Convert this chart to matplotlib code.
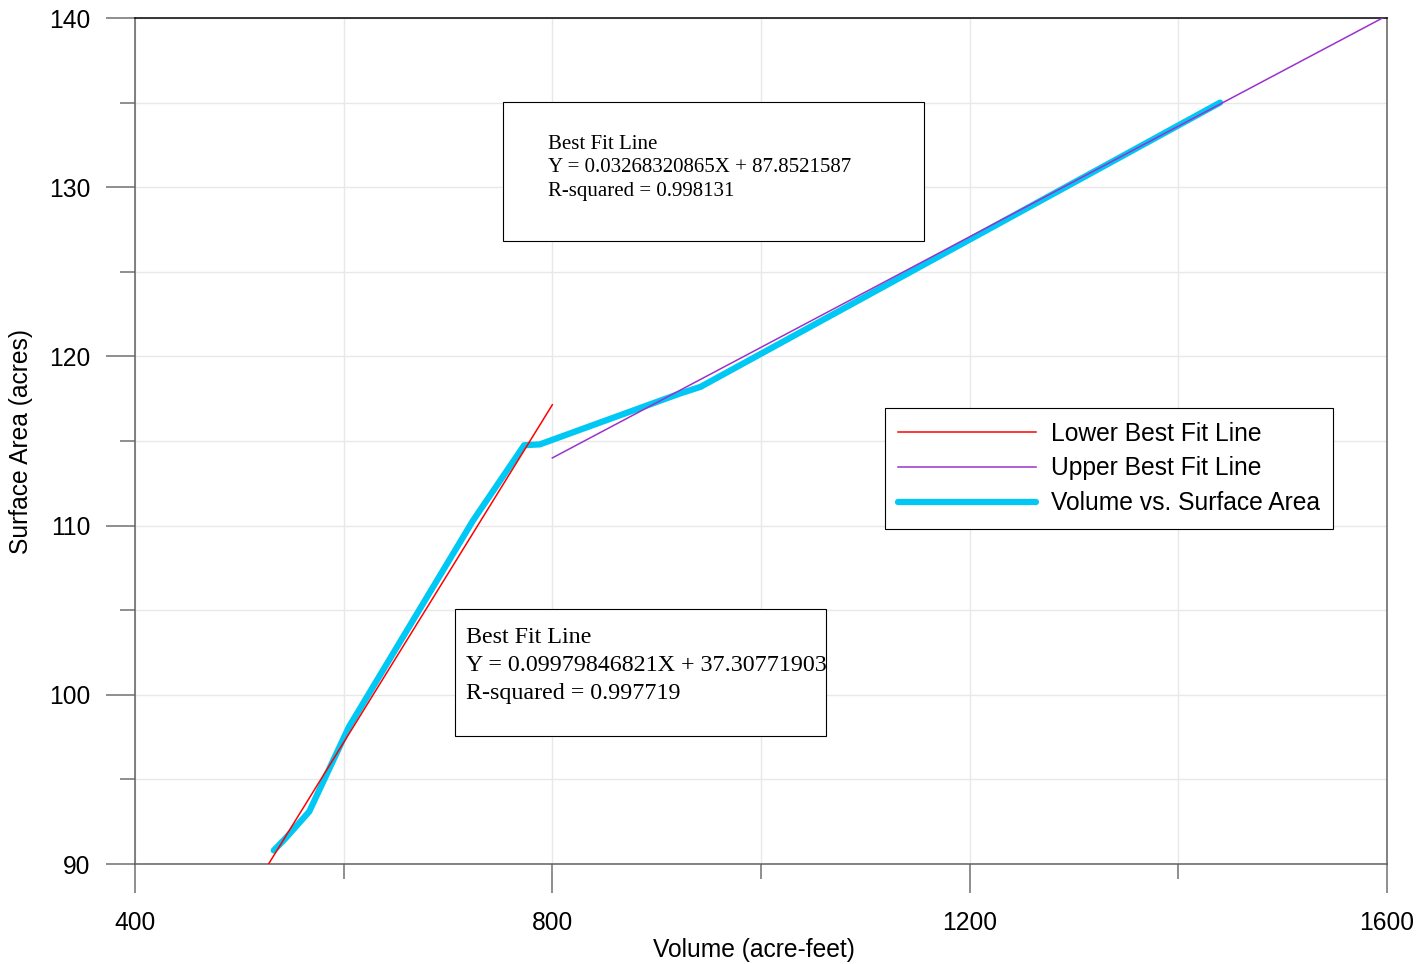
import matplotlib.pyplot as plt
from matplotlib.patches import Rectangle

# volume vs surface area curve
volume = [533, 544, 567, 605, 724, 773, 788, 922, 942, 1440]
surface_area = [90.8, 91.5, 93.1, 98.1, 110.3, 114.75, 114.8, 117.8, 118.2, 135.0]

# best fit line end points
lower_fit_x = [528, 800]
lower_fit_y = [90.0, 117.14]
upper_fit_x = [800, 1600]
upper_fit_y = [114.0, 140.14]

lower_text = ["Best Fit Line", "Y = 0.09979846821X + 37.30771903", "R-squared = 0.997719"]
upper_text = ["Best Fit Line", "Y = 0.03268320865X + 87.8521587", "R-squared = 0.998131"]

plt.rcParams['font.family'] = ['Liberation Sans', 'DejaVu Sans']
fs = 17.7

fig = plt.figure(figsize=(14.2, 9.64), dpi=100)
ax = fig.add_axes([0.09507, 0.10373, 0.88169, 0.87759])

ax.plot(lower_fit_x, lower_fit_y, color='#ff0000', lw=1.1, label='Lower Best Fit Line', zorder=3)
ax.plot(upper_fit_x, upper_fit_y, color='#9933cc', lw=1.1, label='Upper Best Fit Line', zorder=3)
ax.plot(volume, surface_area, color='#00c8f5', lw=4.5, solid_capstyle='round',
        label='Volume vs. Surface Area', zorder=2)

ax.set_xlim(400, 1600)
ax.set_ylim(90, 140)
ax.set_xticks([400, 800, 1200, 1600])
ax.set_xticks([600, 1000, 1400], minor=True)
ax.set_yticks([90, 100, 110, 120, 130, 140])
ax.set_yticks([95, 105, 115, 125, 135], minor=True)

ax.grid(True, which='both', color='#e8e8e8', lw=1.0, zorder=0)
ax.set_axisbelow(True)

ax.tick_params(which='major', length=21, width=1.1, color='#707070', labelsize=fs, pad=11)
ax.tick_params(axis='x', which='major', pad=13)
ax.tick_params(which='minor', length=11, width=1.1, color='#707070')

for side in ['left', 'bottom', 'right']:
    ax.spines[side].set_color('#606060')
    ax.spines[side].set_linewidth(1.1)
ax.spines['top'].set_color('black')
ax.spines['top'].set_linewidth(1.1)

ax.set_xlabel('Volume (acre-feet)', fontsize=fs, labelpad=2)
ax.xaxis.label.set_x(0.4945)
ax.set_ylabel('Surface Area (acres)', fontsize=fs, labelpad=12)

leg = ax.legend(loc='upper left', bbox_to_anchor=(0.599, 0.539), borderaxespad=0,
                fontsize=fs, handlelength=5.6, handletextpad=0.6, labelspacing=0.44,
                fancybox=False, framealpha=1, edgecolor='black', borderpad=0.55)
leg.get_frame().set_linewidth(0.8)

# text boxes with fit equations
ax.add_patch(Rectangle((0.2939, 0.7364), 0.3363, 0.1643, transform=ax.transAxes,
                       facecolor='white', edgecolor='black', lw=0.8, zorder=4))
for i, line in enumerate(upper_text):
    ax.text(0.3299, 0.8510 - i * 0.0278, line, transform=ax.transAxes, va='center',
            fontsize=15, family='Liberation Serif', zorder=5)

ax.add_patch(Rectangle((0.2556, 0.1513), 0.2963, 0.1501, transform=ax.transAxes,
                       facecolor='white', edgecolor='black', lw=0.8, zorder=4))
for i, line in enumerate(lower_text):
    ax.text(0.2644, 0.2675 - i * 0.0331, line, transform=ax.transAxes, va='center',
            fontsize=17.3, family='Liberation Serif', zorder=5)

fig.savefig('out.png', dpi=100)
